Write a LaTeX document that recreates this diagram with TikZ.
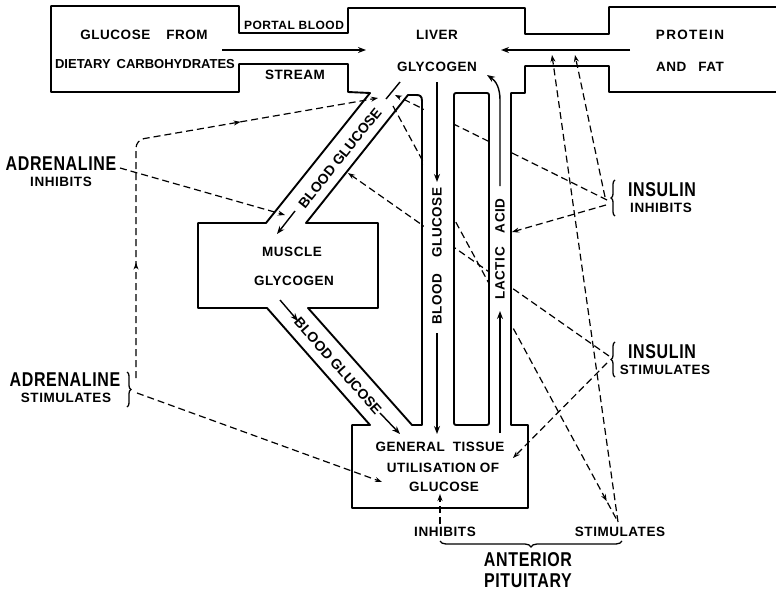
\documentclass[tikz,border=0pt]{standalone}
\usepackage{graphicx}
\usepackage{fontspec}
\setmainfont{Liberation Sans}[LetterSpace=4]
\newfontfamily\plainf{Liberation Sans}
\usetikzlibrary{arrows.meta,decorations.pathreplacing,decorations.markings}
\newcommand{\cnd}[1]{\scalebox{0.8}[1]{#1}}
\begin{document}
\begin{tikzpicture}[x=1pt,y=-1pt,
  wall/.style={line width=1.9pt, line join=round},
  flow/.style={line width=1.4pt, -{Stealth[length=8pt,width=6pt]}},
  plainflow/.style={line width=1.4pt},
  ctrl/.style={line width=1.2pt, dash pattern=on 7pt off 4pt},
  tipd/.style={-{Stealth[length=7pt,width=5pt]}},
  lbl/.style={font=\fontsize{13.5}{15}\selectfont\bfseries, inner sep=0pt},
  diag/.style={font=\plainf\fontsize{14}{16}\selectfont\bfseries, inner sep=0pt},
  big/.style={font=\fontsize{20}{22}\selectfont\bfseries, inner sep=0pt},
  bracestyle/.style={line width=1.3pt, decorate},
  midarrows/.style={decoration={markings,
     mark=at position 0.24 with {\arrow{Stealth[length=7pt,width=5pt]}},
     mark=at position 0.71 with {\arrow{Stealth[length=7pt,width=5pt]}}},
     postaction={decorate}},
  nearend/.style={decoration={markings,
     mark=at position 0.95 with {\arrow{Stealth[length=7pt,width=5pt]}}},
     postaction={decorate}}
]
\fill[white] (0,0) rectangle (776,594);
\useasboundingbox (0,0) rectangle (776,594);

% ---- connector end points
\coordinate (IIb) at (607,200);
\coordinate (IIc) at (606,205);
\coordinate (IId) at (605,197);
\coordinate (ISa) at (609,356);
\coordinate (ISb) at (607,363);
\coordinate (ASa) at (136,378);
\coordinate (ASbend) at (136,140);
\coordinate (ASb) at (137,393);
\coordinate (AIe) at (120,168);
\coordinate (APs) at (618,522);
\coordinate (APi) at (440,524);
\coordinate (topLG) at (395,95);
\coordinate (topAD) at (378,98);
\coordinate (steepTop) at (393,106);
\coordinate (diagR) at (348,173);
\coordinate (diagL) at (285,215);
\coordinate (lacR) at (512,232);
\coordinate (protA) at (552,55);
\coordinate (protB) at (575,55);
\coordinate (gtL) at (382,482);
\coordinate (gtR) at (513,458);
\coordinate (gtB) at (440,494);

% ---- dashed connectors crossing the vertical channels (drawn first)
\draw[ctrl,tipd] (IIb) -- (topLG);
\draw[ctrl,tipd] (ISa) -- (diagR);
\draw[ctrl,nearend] (steepTop) -- (APs);

% ---- channel interiors hide the dashes
\fill[white] (423.5,90) rectangle (452.5,424);
\fill[white] (490,90) rectangle (510,424);

% ---- outlines
\draw[wall] (776,7) -- (609,7) -- (609,34) -- (525,34) -- (525,8) -- (348,8)
  -- (348,33) -- (239,33) -- (239,6) -- (51,6) -- (51,92) -- (239,92)
  -- (239,64) -- (348,64) -- (348,92) -- (370,93) -- (266,223) -- (198,223)
  -- (198,308) -- (267,308) -- (370,425) -- (352,425) -- (352,508)
  -- (528,508) -- (528,425) -- (511,425) -- (511,93) -- (525,93)
  -- (525,66) -- (609,66) -- (609,92) -- (776,92);
\draw[wall] (408,95) -- (306,223) -- (378,223) -- (378,308) -- (308,308)
  -- (412,425) -- (422,425) -- (422,101) .. controls (422,96) and (420,95) .. (416,95) -- cycle;
\draw[wall, rounded corners=2pt] (454,93) rectangle (489,425);

% ---- solid flow arrows
\coordinate (pa1) at (222,50); \coordinate (pa2) at (366,50);
\coordinate (pr1) at (630,50); \coordinate (pr2) at (501,50);
\draw[flow] (pa1) -- (pa2);
\draw[flow] (pr1) -- (pr2);
\coordinate (bv1) at (437,82); \coordinate (bv2) at (437,182);
\coordinate (bv3) at (437,333); \coordinate (bv4) at (437,434);
\draw[flow] (bv1) -- (bv2);
\draw[flow] (bv3) -- (bv4);
\coordinate (la1) at (500,433); \coordinate (la2) at (500,311);
\coordinate (la3) at (500,186); \coordinate (la4) at (487,75);
\draw[flow] (la1) -- (la2);
\draw[flow] (la3) -- (500,100) .. controls (500,88) and (496,81) .. (la4);
\coordinate (ud1) at (400,82); \coordinate (ud2) at (386,99);
\coordinate (ud3) at (295,211); \coordinate (ud4) at (277,234);
\draw[plainflow] (ud1) -- (ud2);
\draw[flow] (ud3) -- (ud4);
\coordinate (ld1) at (280,300); \coordinate (ld2) at (298,321);
\coordinate (ld3) at (380,413); \coordinate (ld4) at (400,434);
\draw[flow] (ld1) -- (ld2);
\draw[flow] (ld3) -- (ld4);

% ---- other dashed connectors
\draw[ctrl, rounded corners=8pt, midarrows, tipd] (ASa) -- (ASbend) -- (topAD);
\draw[ctrl,tipd] (ASb) -- (gtL);
\draw[ctrl,tipd] (AIe) -- (diagL);
\draw[ctrl,tipd] (IIc) -- (lacR);
\draw[ctrl,tipd] (IId) -- (protB);
\draw[ctrl,tipd] (ISb) -- (gtR);
\draw[ctrl,tipd] (APs) -- (protA);
\draw[ctrl,tipd] (APi) -- (gtB);

% ---- braces
\draw[bracestyle, decoration={brace, amplitude=4pt}] (127,372) -- (127,407);
\draw[bracestyle, decoration={brace, amplitude=4pt}] (615,216) -- (615,180);
\draw[bracestyle, decoration={brace, amplitude=4pt}] (615,377) -- (615,342);
\draw[bracestyle, decoration={brace, amplitude=6pt}] (622,541) -- (440,541);

% ---- texts
\node[lbl] (gf1) at (144,35) {GLUCOSE\hspace{16pt}FROM};
\node[lbl, font=\fontsize{13}{15}\selectfont\bfseries] (gf2) at (145,64) {\addfontfeature{LetterSpace=0}DIETARY\hspace{6pt}CARBOHYDRATES};
\node[lbl, font=\fontsize{12}{14}\selectfont\bfseries] (pb) at (294,25) {PORTAL BLOOD};
\node[lbl] (st) at (295,75) {STREAM};
\node[lbl] (lv1) at (437,35) {LIVER};
\node[lbl] (lv2) at (437,67) {GLYCOGEN};
\node[lbl] (pf1) at (690,35) {\addfontfeature{LetterSpace=10}PROTEIN};
\node[lbl] (pf2) at (690,67) {AND\hspace{12pt}FAT};
\node[lbl] (mg1) at (292,252) {MUSCLE};
\node[lbl] (mg2) at (294,281) {GLYCOGEN};
\node[lbl] (gt1) at (440,447) {GENERAL\hspace{8pt}TISSUE};
\node[lbl] (gt2) at (443,468) {UTILISATION\hspace{4pt}OF};
\node[lbl] (gt3) at (444,487) {GLUCOSE};
\node[lbl] (inh) at (445,532) {INHIBITS};
\node[lbl] (sti) at (620,532) {STIMULATES};
\node[big] (ap1) at (528,560) {\cnd{ANTERIOR}};
\node[big] (ap2) at (528,581) {\cnd{PITUITARY}};
\node[big] (ad1) at (61,164) {\cnd{ADRENALINE}};
\node[lbl] (ad1b) at (61,182) {INHIBITS};
\node[big] (ad2) at (65,380) {\cnd{ADRENALINE}};
\node[lbl] (ad2b) at (66,398) {STIMULATES};
\node[big] (in1) at (662,190) {\cnd{INSULIN}};
\node[lbl] (in1b) at (661,208) {INHIBITS};
\node[big] (in2) at (662,352) {\cnd{INSULIN}};
\node[lbl] (in2b) at (665,370) {STIMULATES};
\node[lbl, rotate=90] (bgv) at (437,256) {BLOOD\hspace{16pt}GLUCOSE};
\node[lbl, rotate=90] (lac) at (500,249) {LACTIC\hspace{14pt}ACID};
\node[diag, rotate=51.3] (bgu) at (340,158) {BLOOD GLUCOSE};
\node[diag, rotate=-48.4] (bgl) at (338,366) {BLOOD GLUCOSE};
\end{tikzpicture}
\end{document}
